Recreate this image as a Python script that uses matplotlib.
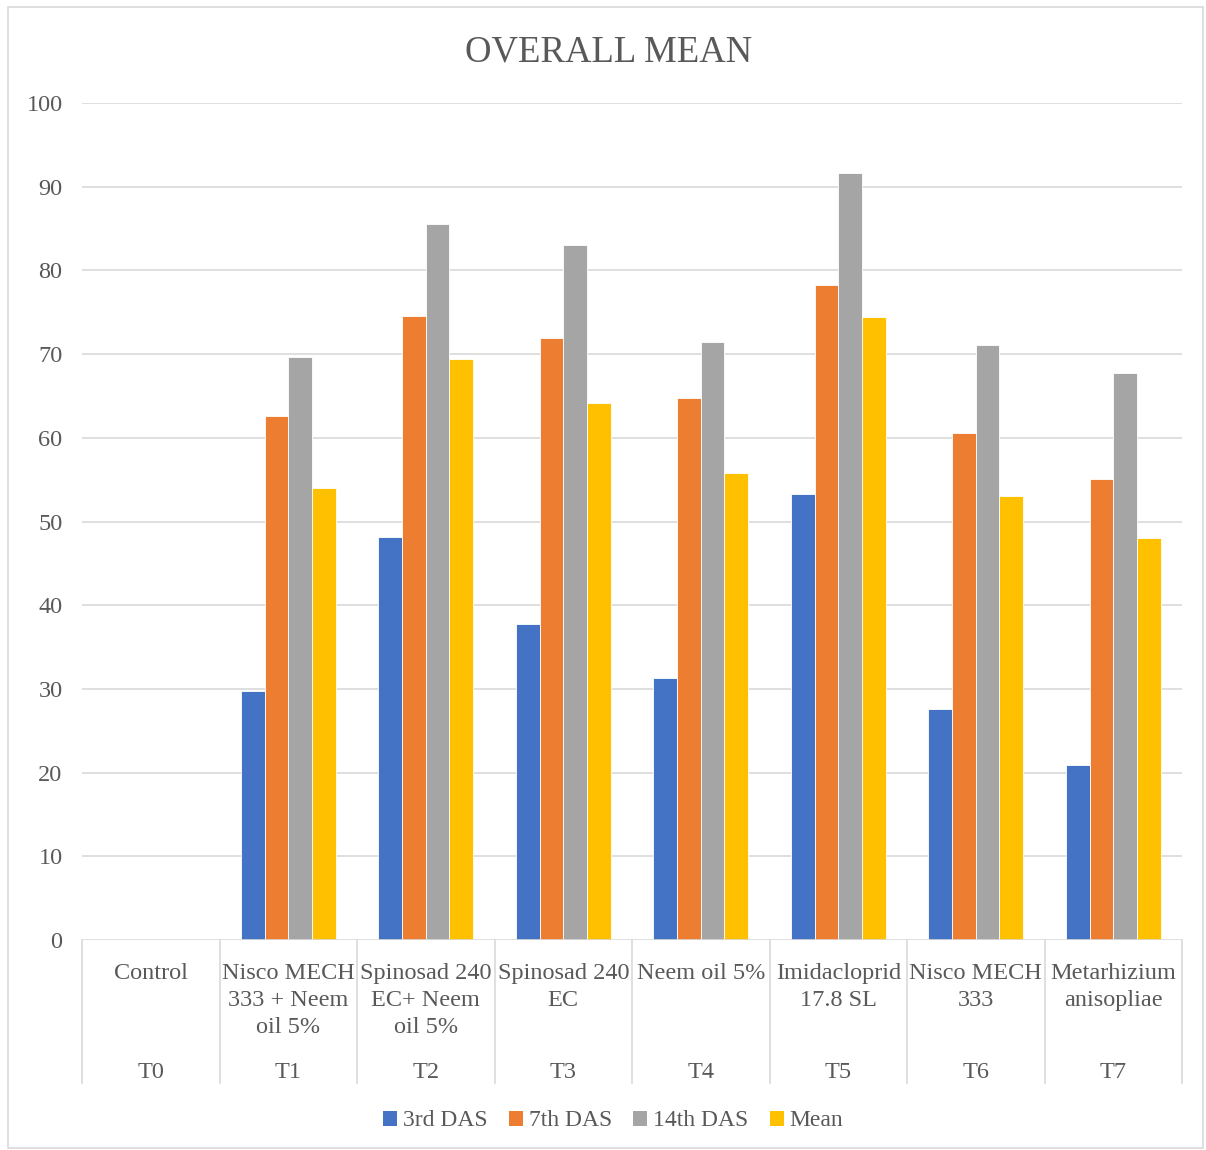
import matplotlib
matplotlib.use("Agg")
import matplotlib.pyplot as plt
from matplotlib.patches import Patch, Rectangle
from matplotlib.lines import Line2D
import numpy as np

plt.rcParams['font.family'] = ['Liberation Serif', 'DejaVu Serif']

# Treatments (two-level category labels)
treatments = ["Control", "Nisco MECH\n333 + Neem\noil 5%", "Spinosad 240\nEC+ Neem\noil 5%",
              "Spinosad 240\nEC", "Neem oil 5%", "Imidacloprid\n17.8 SL", "Nisco MECH\n333",
              "Metarhizium\nanisopliae"]
codes = ["T0", "T1", "T2", "T3", "T4", "T5", "T6", "T7"]

series_names = ["3rd DAS", "7th DAS", "14th DAS", "Mean"]
das3 = [0, 29.7, 48.1, 37.7, 31.3, 53.3, 27.6, 20.9]
das7 = [0, 62.6, 74.6, 71.9, 64.8, 78.2, 60.6, 55.1]
das14 = [0, 69.7, 85.6, 83.0, 71.4, 91.6, 71.1, 67.7]
mean = [0, 54.0, 69.4, 64.1, 55.8, 74.4, 53.1, 48.0]
yticks = [0, 10, 20, 30, 40, 50, 60, 70, 80, 90, 100]

colors = ["#4472C4", "#ED7D31", "#A5A5A5", "#FFC000"]
text_color = "#595959"
grid_color = "#D9D9D9"

W, H = 1206, 1150
fig = plt.figure(figsize=(W / 100, H / 100), dpi=100)
ax = fig.add_axes([82 / W, 1 - 940 / H, 1100 / W, 837 / H])

x = np.arange(len(codes))
bw = 0.1727
for k, (vals, c) in enumerate(zip([das3, das7, das14, mean], colors)):
    ax.bar(x + (k - 1.5) * bw, vals, width=bw, color=c, edgecolor="white",
           linewidth=0.6, zorder=2, label=series_names[k])

ax.set_xlim(-0.5, len(codes) - 0.5)
ax.set_ylim(0, 100)
ax.set_yticks(yticks)
ax.set_yticklabels([str(v) for v in yticks], fontsize=17.5, color=text_color)
ax.tick_params(axis="y", length=0, pad=14)
ax.set_xticks([])
for s in ax.spines.values():
    s.set_visible(False)
for v in yticks[1:]:
    ax.axhline(v, color=grid_color, lw=1.2, zorder=1)
ax.axhline(0, color=grid_color, lw=1.2, zorder=4)

# category separators below the axis
tr = ax.get_xaxis_transform()
sep_len = (1083 - 940) / 837
for b in np.arange(-0.5, len(codes), 1.0):
    ax.add_line(Line2D([b, b], [0, -sep_len], transform=tr, color=grid_color,
                       lw=1.2, clip_on=False))

for i, (t, c) in enumerate(zip(treatments, codes)):
    ax.annotate(t, xy=(i, 0), xycoords=tr, xytext=(0, -16.5), textcoords="offset points",
                ha="center", va="top", fontsize=17.5, color=text_color, linespacing=1.38)
    ax.annotate(c, xy=(i, 0), xycoords=tr, xytext=(0, -95.5), textcoords="offset points",
                ha="center", va="center", fontsize=17.5, color=text_color)

fig.text(609 / W, 1 - 52 / H, "OVERALL MEAN", ha="center", va="center",
         fontsize=26.5, color=text_color)

handles = [Patch(facecolor=c, edgecolor="none") for c in colors]
fig.legend(handles, series_names, loc="center", bbox_to_anchor=(613 / W, 1 - 1121 / H),
           ncol=4, frameon=False, fontsize=17, handlelength=0.6, handleheight=0.6,
           handletextpad=0.25, columnspacing=0.9, labelcolor=text_color)

fig.patches.append(Rectangle((8 / W, 2 / H), 1195 / W, 1141 / H, transform=fig.transFigure,
                             fill=False, edgecolor=grid_color, lw=1.2))

fig.savefig("out.png", dpi=100, facecolor="white")
